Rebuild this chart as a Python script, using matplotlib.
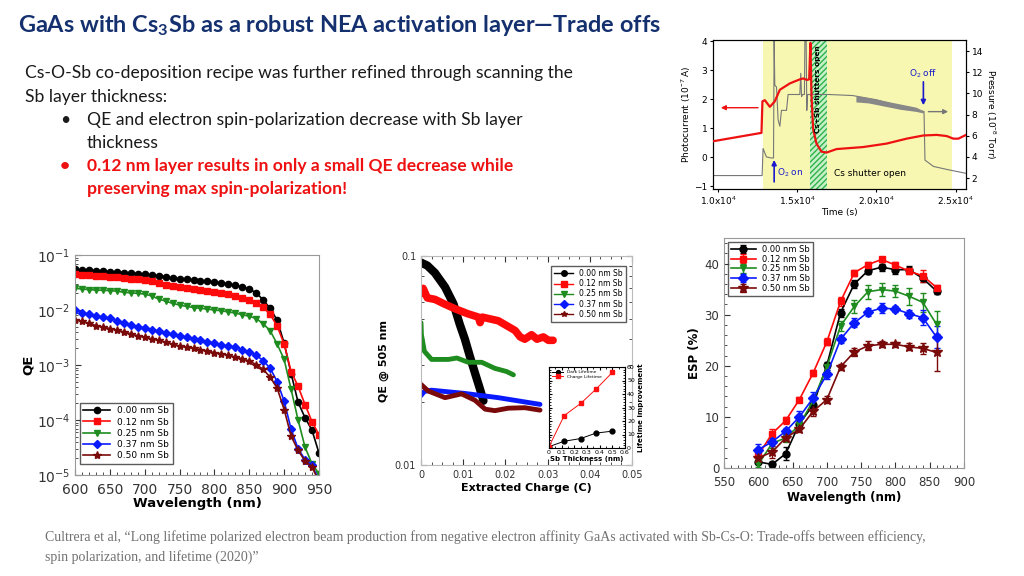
import matplotlib
matplotlib.use("Agg")
import matplotlib.pyplot as plt
from matplotlib.ticker import LogLocator, NullFormatter, MultipleLocator

plt.rcParams['font.family'] = ['DejaVu Sans']
plt.rcParams['mathtext.fontset'] = 'custom'
plt.rcParams['mathtext.rm'] = 'Lato'
plt.rcParams['mathtext.bf'] = 'Lato:bold'

# ---------------- data ----------------
labels = ['0.00 nm Sb', '0.12 nm Sb', '0.25 nm Sb', '0.37 nm Sb', '0.50 nm Sb']
colors = ['#000000', '#ff0a0a', '#1f8c1f', '#0a1aff', '#7a0a0a']
markers = ['o', 's', 'v', 'D', '*']

# QE vs wavelength (left)
wl_qe = [600, 610, 620, 630, 640, 650, 660, 670, 680, 690, 700, 710, 720, 730, 740, 750, 760, 770,
         780, 790, 800, 810, 820, 830, 840, 850, 860, 870, 880, 890, 900, 910, 920, 930, 940, 950]
qe_000 = [0.055, 0.054, 0.053, 0.052, 0.051, 0.050, 0.049, 0.048, 0.047, 0.046, 0.045, 0.043, 0.042,
          0.040, 0.038, 0.037, 0.036, 0.035, 0.034, 0.033, 0.032, 0.031, 0.030, 0.028, 0.026, 0.024,
          0.0205, 0.0152, 0.0107, 0.0065, 0.0025, 0.0007, 0.00021, 0.00011, 0.000065, 0.000025]
qe_012 = [0.046, 0.044, 0.043, 0.042, 0.041, 0.040, 0.039, 0.038, 0.037, 0.036, 0.035, 0.033, 0.031,
          0.029, 0.027, 0.026, 0.025, 0.024, 0.023, 0.022, 0.021, 0.020, 0.0195, 0.018, 0.0168, 0.0155,
          0.0135, 0.0112, 0.0083, 0.0051, 0.0024, 0.00076, 0.00041, 0.00019, 0.000093, 0.000054]
qe_025 = [0.025, 0.024, 0.0235, 0.023, 0.0228, 0.0225, 0.022, 0.021, 0.0205, 0.020, 0.0195, 0.018,
          0.0158, 0.0145, 0.0132, 0.0123, 0.0116, 0.0111, 0.0107, 0.0104, 0.0100, 0.0097, 0.0092,
          0.0088, 0.0082, 0.0077, 0.0070, 0.0056, 0.0042, 0.0024, 0.00126, 0.00036, 0.0001, 0.000032,
          0.000016, 0.0000105]
qe_037 = [0.0100, 0.0090, 0.0083, 0.0077, 0.0074, 0.0071, 0.0064, 0.0058, 0.0053, 0.0050, 0.0047,
          0.0044, 0.0041, 0.0038, 0.0036, 0.0034, 0.0032, 0.0030, 0.0028, 0.0026, 0.0025, 0.0023,
          0.0022, 0.0021, 0.0019, 0.00173, 0.0015, 0.0012, 0.00087, 0.0005, 0.00022, 0.000068,
          0.00003, 0.000019, 0.000015, 0.000008]
qe_050 = [0.0067, 0.0062, 0.0057, 0.0052, 0.0049, 0.0046, 0.0043, 0.0040, 0.0037, 0.0034, 0.0032,
          0.0030, 0.0028, 0.0026, 0.0024, 0.0022, 0.0021, 0.0020, 0.0019, 0.0018, 0.00168, 0.0016,
          0.0015, 0.0014, 0.0013, 0.00118, 0.00102, 0.00083, 0.0006, 0.00038, 0.000155, 0.000051,
          0.000028, 0.000018, 0.000014, 0.0000075]

# QE @ 505 nm vs extracted charge (middle)
ch_000 = [0.0, 0.0015, 0.0033, 0.0057, 0.0077, 0.0092, 0.0104, 0.0116, 0.0128, 0.0140, 0.0148]
qc_000 = [0.093, 0.090, 0.083, 0.071, 0.059, 0.047, 0.040, 0.033, 0.0275, 0.023, 0.0203]
ch_012 = [0.0, 0.0005, 0.0015, 0.0033, 0.0055, 0.008, 0.011, 0.0136, 0.0140, 0.0145, 0.0183, 0.0223,
          0.0235, 0.0246, 0.0262, 0.0275, 0.0290, 0.0302, 0.0313]
qc_012 = [0.066, 0.070, 0.063, 0.062, 0.059, 0.056, 0.053, 0.051, 0.048, 0.051, 0.049, 0.044, 0.041,
          0.040, 0.042, 0.040, 0.041, 0.0395, 0.0395]
ch_025 = [0.0, 0.0001, 0.0008, 0.0025, 0.0065, 0.0085, 0.0112, 0.0144, 0.0175, 0.0203, 0.0219]
qc_025 = [0.048, 0.042, 0.035, 0.032, 0.032, 0.0325, 0.031, 0.031, 0.029, 0.028, 0.027]
ch_037 = [0.0, 0.0008, 0.0025, 0.0104, 0.0183, 0.0282]
qc_037 = [0.0215, 0.0225, 0.0228, 0.022, 0.021, 0.0195]
ch_050 = [0.0, 0.0017, 0.0057, 0.0096, 0.0128, 0.0152, 0.0175, 0.0207, 0.0246, 0.0282]
qc_050 = [0.0243, 0.0226, 0.021, 0.0219, 0.0204, 0.0185, 0.0182, 0.0187, 0.0188, 0.0183]

# inset: lifetime improvement
sb_thick = [0.0, 0.12, 0.25, 0.37, 0.50]
dark_life = [1, 5, 7, 11, 12.5]
charge_life = [1, 24, 33, 43.5, 56]

# ESP vs wavelength (right)
wl_esp = [600, 620, 640, 660, 680, 700, 720, 740, 760, 780, 800, 820, 840, 860]
esp_000 = [1.2, 0.7, 2.8, 8.7, 12.3, 20.1, 30.4, 36.0, 38.6, 39.3, 38.8, 38.8, 37.1, 34.6]
esp_012 = [2.5, 6.7, 9.3, 13.4, 18.6, 24.7, 32.6, 38.2, 39.8, 40.8, 39.7, 38.5, 37.6, 35.3]
esp_025 = [0.7, 4.8, 5.9, 8.4, 13.2, 19.8, 27.8, 31.6, 34.5, 34.9, 34.6, 33.6, 32.4, 28.1]
esp_037 = [3.6, 5.1, 7.2, 10.0, 13.7, 18.3, 25.2, 28.4, 30.5, 31.3, 31.1, 30.2, 29.4, 25.6]
esp_050 = [2.0, 3.1, 5.9, 7.6, 11.1, 13.4, 19.8, 22.7, 23.9, 24.2, 24.2, 23.7, 23.4, 22.6]
err_000 = [0.3, 0.5, 1.3, 0.6, 0.6, 0.6, 0.8, 0.7, 0.6, 0.7, 0.9, 0.7, 0.8, 0.6]
err_012 = [0.3, 0.9, 0.7, 0.5, 0.6, 0.7, 0.9, 0.6, 0.6, 0.5, 0.6, 0.6, 1.2, 0.6]
err_025 = [0.6, 0.9, 0.8, 0.6, 0.6, 0.6, 0.9, 1.3, 1.4, 1.3, 1.2, 1.7, 1.9, 2.6]
err_037 = [1.0, 0.8, 0.7, 1.1, 1.2, 0.8, 0.8, 0.9, 0.8, 0.9, 0.6, 0.8, 1.5, 2.2]
err_050 = [0.6, 1.2, 0.7, 0.6, 0.9, 0.7, 0.6, 0.8, 0.9, 0.6, 0.5, 0.7, 1.0, 3.6]

# activation trace (top right), time in 1e4 s
t_pc = [0.968, 1.274, 1.280, 1.295, 1.327, 1.358, 1.390, 1.453, 1.516, 1.537, 1.562, 1.575, 1.583,
        1.590, 1.600, 1.621, 1.653, 1.685, 1.748, 1.916, 2.064, 2.190, 2.296, 2.380, 2.443, 2.485,
        2.517, 2.565]
photocurrent = [0.55, 0.84, 1.93, 1.97, 1.74, 1.93, 2.33, 2.55, 2.69, 2.72, 2.67, 2.69, 3.95, 2.10,
                0.98, 0.47, 0.19, 0.16, 0.28, 0.35, 0.47, 0.64, 0.75, 0.77, 0.73, 0.64, 0.64, 0.77]
t_pr = [0.968, 1.278, 1.284, 1.305, 1.337, 1.350, 1.354, 1.358, 1.369, 1.379, 1.390, 1.400, 1.432,
        1.442, 1.516, 1.522, 1.527, 1.533, 1.545, 1.548, 1.556, 1.560, 1.565, 1.579, 1.70, 1.85,
        2.00, 2.10, 2.20, 2.296, 2.300, 2.306, 2.36, 2.45, 2.565]
pressure = [2.24, 2.24, 4.8, 4.0, 3.9, 3.9, 15.0, 10.8, 10.6, 7.5, 6.9, 8.4, 8.4, 9.9, 9.9, 11.9,
            9.7, 9.9, 9.9, 15.0, 15.0, 8.4, 9.9, 9.9, 9.9, 9.8, 9.4, 9.0, 8.7, 8.3, 8.3, 3.7, 3.1,
            2.8, 2.45]
band_t = [1.87, 1.95, 2.05, 2.15, 2.25, 2.296]
band_hi = [9.8, 9.6, 9.3, 9.0, 8.7, 8.35]
band_lo = [9.2, 9.1, 8.8, 8.5, 8.3, 8.15]

# ---------------- figure ----------------
fig = plt.figure(figsize=(10.24, 5.76), dpi=100)
fig.patch.set_facecolor('white')

navy = '#14306e'
fig.text(0.0176, 0.956, r'GaAs with Cs$_\mathbf{3}$Sb as a robust NEA activation layer—Trade offs',
         family='Lato', weight='bold', fontsize=16.9, color=navy, va='center')
body = dict(family='Lato', fontsize=12.6, color='#1a1a1a', va='center')
fig.text(0.0244, 1 - 73 / 576, 'Cs-O-Sb co-deposition recipe was further refined through scanning the', **body)
fig.text(0.0244, 1 - 97 / 576, 'Sb layer thickness:', **body)
fig.text(60 / 1024, 1 - 120 / 576, '•', **body)
fig.text(87 / 1024, 1 - 120 / 576, 'QE and electron spin-polarization decrease with Sb layer', **body)
fig.text(87 / 1024, 1 - 143 / 576, 'thickness', **body)
red_body = dict(body, color='#ee1111', weight='bold')
fig.text(60 / 1024, 1 - 166 / 576, '•', **red_body)
fig.text(87 / 1024, 1 - 166 / 576, '0.12 nm layer results in only a small QE decrease while', **red_body)
fig.text(87 / 1024, 1 - 189 / 576, 'preserving max spin-polarization!', **red_body)

cite = dict(family='Liberation Serif', fontsize=10, color='#707070', va='center')
fig.text(45 / 1024, 1 - 537 / 576,
         'Cultrera et al, \u201cLong lifetime polarized electron beam production from negative electron '
         'affinity GaAs activated with Sb-Cs-O: Trade-offs between efficiency,', **cite)
fig.text(45 / 1024, 1 - 557 / 576, 'spin polarization, and lifetime (2020)\u201d', **cite)

frame = '#999999'

# ---- left: QE vs wavelength ----
ax1 = fig.add_axes([75 / 1024, 1 - 475 / 576, 244 / 1024, 220 / 576])
for y, c, m, lab in zip([qe_000, qe_012, qe_025, qe_037, qe_050], colors, markers, labels):
    ax1.plot(wl_qe, y, color=c, marker=m, ms=4.5 if m != '*' else 6, mec=c, lw=1.2, label=lab)
ax1.set_yscale('log')
ax1.set_xlim(600, 950)
ax1.set_ylim(1e-5, 1e-1)
ax1.set_xticks([600, 650, 700, 750, 800, 850, 900, 950])
ax1.xaxis.set_minor_locator(MultipleLocator(10))
ax1.yaxis.set_minor_locator(LogLocator(base=10, subs=range(2, 10)))
ax1.yaxis.set_minor_formatter(NullFormatter())
ax1.tick_params(which='both', direction='in', labelsize=10, colors='#333333')
ax1.tick_params(axis='x', pad=6)
ax1.tick_params(which='major', length=4)
ax1.tick_params(which='minor', length=2)
ax1.set_xlabel('Wavelength (nm)', fontsize=9.5, weight='bold', labelpad=0)
ax1.set_ylabel('QE', fontsize=9.5, weight='bold', labelpad=1)
for s in ax1.spines.values():
    s.set_color(frame)
ax1.legend(loc='lower left', fontsize=6.5, frameon=True, fancybox=False, edgecolor='#333333',
           handlelength=3, borderpad=0.4, labelspacing=0.25, bbox_to_anchor=(0.0, 0.03))

# ---- middle: QE @ 505 nm vs extracted charge ----
ax2 = fig.add_axes([421 / 1024, 1 - 465 / 576, 211 / 1024, 209 / 576])
traces = [(ch_000, qc_000, 6), (ch_012, qc_012, 5.5), (ch_025, qc_025, 3.5),
          (ch_037, qc_037, 3.5), (ch_050, qc_050, 3.5)]
for (x, y, w), c in zip(traces, colors):
    ax2.plot(x, y, color=c, lw=w, solid_capstyle='round', solid_joinstyle='round')
for c, m, lab in zip(colors, markers, labels):
    ax2.plot([], [], color=c, marker=m, ms=4, lw=1, label=lab)
ax2.set_yscale('log')
ax2.set_xlim(0, 0.05)
ax2.set_ylim(0.01, 0.1)
ax2.set_xticks([0, 0.01, 0.02, 0.03, 0.04, 0.05])
ax2.set_xticklabels(['0', '0.01', '0.02', '0.03', '0.04', '0.05'])
ax2.set_yticks([0.01, 0.1])
ax2.set_yticklabels(['0.01', '0.1'])
ax2.yaxis.set_minor_locator(LogLocator(base=10, subs=range(2, 10)))
ax2.yaxis.set_minor_formatter(NullFormatter())
ax2.xaxis.set_minor_locator(MultipleLocator(0.0025))
ax2.tick_params(which='both', direction='in', top=True, right=True, labelsize=7, colors='#333333')
ax2.tick_params(which='major', length=4)
ax2.tick_params(which='minor', length=2)
ax2.set_xlabel('Extracted Charge (C)', fontsize=8, weight='bold', labelpad=2)
ax2.set_ylabel('QE @ 505 nm', fontsize=8, weight='bold', labelpad=4)
for s in ax2.spines.values():
    s.set_color('#bbbbbb')
ax2.legend(loc='upper right', fontsize=5.5, frameon=True, fancybox=False, edgecolor='#333333',
           handlelength=2.5, borderpad=0.4, labelspacing=0.15, bbox_to_anchor=(0.99, 0.97))

# ---- inset ----
ax3 = fig.add_axes([549 / 1024, 1 - 448 / 576, 76 / 1024, 81 / 576])
ax3.plot(sb_thick, dark_life, color='black', marker='o', ms=3.5, lw=0.7, label='Dark Lifetime')
ax3.plot(sb_thick, charge_life, color='#ff1010', marker='s', ms=3.5, lw=0.7, label='Charge Lifetime')
ax3.set_xlim(0, 0.6)
ax3.set_ylim(0, 60)
ax3.set_xticks([0, 0.1, 0.2, 0.3, 0.4, 0.5, 0.6])
ax3.set_xticklabels(['0', '0.1', '0.2', '0.3', '0.4', '0.5', '0.6'])
ax3.set_yticks(range(0, 61, 10))
ax3.yaxis.tick_right()
ax3.yaxis.set_label_position('right')
ax3.xaxis.set_minor_locator(MultipleLocator(0.05))
ax3.yaxis.set_minor_locator(MultipleLocator(2))
ax3.tick_params(which='both', direction='in', left=True, top=True, labelsize=4.5, pad=1.5)
ax3.tick_params(which='major', length=2.5)
ax3.tick_params(which='minor', length=1.2)
ax3.set_xlabel('Sb Thickness (nm)', fontsize=5, weight='bold', labelpad=1)
ax3.set_ylabel('Lifetime improvement', fontsize=5, weight='bold', labelpad=2)
ax3.legend(loc='upper left', fontsize=3.2, frameon=False, handlelength=2.5, borderpad=0.2,
           labelspacing=0.1, markerscale=0.8)

# ---- right: ESP vs wavelength ----
ax4 = fig.add_axes([724 / 1024, 1 - 468 / 576, 240 / 1024, 230 / 576])
for y, e, c, m, lab in zip([esp_000, esp_012, esp_025, esp_037, esp_050],
                           [err_000, err_012, err_025, err_037, err_050], colors, markers, labels):
    ax4.errorbar(wl_esp, y, yerr=e, color=c, marker=m, ms=5 if m != '*' else 7, mec=c, lw=1.2,
                 elinewidth=1, capsize=2, capthick=1, label=lab)
ax4.set_xlim(550, 900)
ax4.set_ylim(0, 45)
ax4.set_xticks(range(550, 901, 50))
ax4.set_yticks([0, 10, 20, 30, 40])
ax4.xaxis.set_minor_locator(MultipleLocator(10))
ax4.yaxis.set_minor_locator(MultipleLocator(2))
ax4.tick_params(which='both', direction='in', labelsize=8.5, colors='#333333')
ax4.tick_params(axis='x', pad=6)
ax4.tick_params(which='major', length=4)
ax4.tick_params(which='minor', length=2)
ax4.set_xlabel('Wavelength (nm)', fontsize=8.5, weight='bold', labelpad=1)
ax4.set_ylabel('ESP (%)', fontsize=8.5, weight='bold', labelpad=2)
for s in ax4.spines.values():
    s.set_color(frame)
ax4.legend(loc='upper left', fontsize=6, frameon=True, fancybox=False, edgecolor='#333333',
           handlelength=3, borderpad=0.3, labelspacing=0.1, bbox_to_anchor=(0.0, 1.0))

# ---- top right: activation trace ----
ax5 = fig.add_axes([713 / 1024, 1 - 189 / 576, 253 / 1024, 149 / 576])
ax5b = ax5.twinx()
ax5.set_zorder(ax5b.get_zorder() + 1)
ax5.patch.set_visible(False)
ax5b.patch.set_visible(True)
ax5b.patch.set_facecolor('white')
ax5b.axvspan(1.284, 2.475, color='#f7f7b2', lw=0, zorder=0)
ax5b.axvspan(1.579, 1.685, facecolor='#c8f0c8', edgecolor='#2fb24a', hatch='//////', lw=0, zorder=0.5)
ax5b.plot(t_pr, pressure, color='#777777', lw=0.8, zorder=2)
ax5b.fill_between(band_t, band_lo, band_hi, color='#888888', lw=0, zorder=2)
ax5.plot(t_pc, photocurrent, color='#ee1111', lw=1.6, zorder=5)
ax5.set_xlim(0.968, 2.565)
ax5.set_ylim(-1.1, 4.05)
ax5b.set_ylim(0.97, 15.05)
ax5.set_xticks([1.0, 1.5, 2.0, 2.5])
ax5.set_xticklabels([r'1.0x10$^4$', r'1.5x10$^4$', r'2.0x10$^4$', r'2.5x10$^4$'])
ax5.set_yticks([-1, 0, 1, 2, 3, 4])
ax5b.set_yticks([2, 4, 6, 8, 10, 12, 14])
for a in (ax5, ax5b):
    a.tick_params(labelsize=6.5, length=2.5, direction='out', pad=1.5)
ax5.set_xlabel('Time (s)', fontsize=6.5, labelpad=1)
ax5.set_ylabel(r'Photocurrent (10$^{-7}$ A)', fontsize=6.5, labelpad=1)
ax5b.set_ylabel(r'Pressure (10$^{-8}$ Torr)', fontsize=6.5, rotation=270, labelpad=10)
ax5.annotate('', xy=(1.0, 1.71), xytext=(1.27, 1.71),
             arrowprops=dict(arrowstyle='-|>', color='#ee1111', lw=1, mutation_scale=7))
ax5b.annotate('', xy=(2.47, 8.28), xytext=(2.31, 8.28),
              arrowprops=dict(arrowstyle='-|>', color='#777777', lw=1, mutation_scale=7))
ax5.annotate('', xy=(1.354, 0.0), xytext=(1.354, -0.95),
             arrowprops=dict(arrowstyle='-|>', color='#1a1acc', lw=1.2, mutation_scale=7))
ax5.annotate('', xy=(2.296, 1.7), xytext=(2.296, 2.7),
             arrowprops=dict(arrowstyle='-|>', color='#1a1acc', lw=1.2, mutation_scale=7))
ax5.text(1.372, -0.55, r'O$_2$ on', color='#1a1acc', fontsize=6.5, va='center')
ax5.text(2.296, 2.9, r'O$_2$ off', color='#1a1acc', fontsize=6.5, ha='center', va='center')
ax5.text(1.632, 2.35, 'Cs+Sb shutters open', rotation=90, fontsize=5.3, weight='bold',
         ha='center', va='center', zorder=6)
ax5.text(1.96, -0.55, 'Cs shutter open', fontsize=6.5, ha='center', va='center')

fig.savefig('out.png', dpi=100)
